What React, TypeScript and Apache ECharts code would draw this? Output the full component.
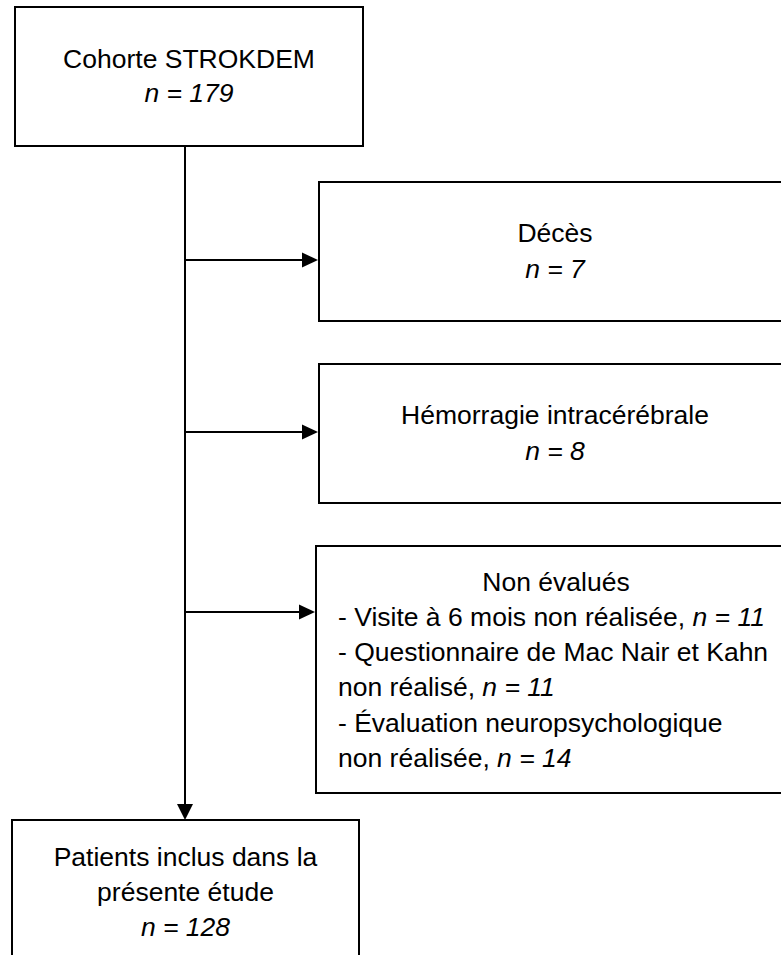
import React, { useEffect, useRef } from "react";
import * as echarts from "echarts";

// ---- data ----
const cohortTitle = "Cohorte STROKDEM";
const cohortCount = 179;
const exclusionTitles = ["Décès", "Hémorragie intracérébrale"];
const exclusionCounts = [7, 8];
const nonEvalTitle = "Non évalués";
const nonEvalLines = [
  "- Visite à 6 mois non réalisée, ",
  "- Questionnaire de Mac Nair et Kahn",
  "non réalisé, ",
  "- Évaluation neuropsychologique",
  "non réalisée, ",
];
const nonEvalLineCounts: (number | null)[] = [11, null, 11, null, 14];
const finalTitleLines = ["Patients inclus dans la", "présente étude"];
const finalCount = 128;

const FF = '"Liberation Sans", Arial, Helvetica, sans-serif';
const FS = 26.5;
const LINE = 2;

function richText(x: number, y: number, parts: { t: string; i?: boolean }[], align: string) {
  const text = parts.map((p) => `{${p.i ? "i" : "r"}|${p.t}}`).join("");
  return {
    type: "text",
    x,
    y,
    z: 10,
    style: {
      text,
      fill: "#000",
      fontSize: FS,
      fontFamily: FF,
      align,
      textAlign: align,
      verticalAlign: "middle",
      textVerticalAlign: "middle",
      rich: {
        r: { fontSize: FS, fontFamily: FF, fill: "#000", fontStyle: "normal" },
        i: { fontSize: FS, fontFamily: FF, fill: "#000", fontStyle: "italic" },
      },
    },
  };
}

function box(x: number, y: number, w: number, h: number) {
  return {
    type: "rect",
    z: 1,
    shape: { x, y, width: w, height: h },
    style: { fill: "#fff", stroke: "#000", lineWidth: LINE },
  };
}

function hArrow(y: number, tipX: number) {
  return [
    { type: "line", z: 2, shape: { x1: 185, y1: y, x2: tipX - 12, y2: y }, style: { stroke: "#000", lineWidth: LINE } },
    {
      type: "polygon",
      z: 3,
      shape: { points: [[tipX - 16, y - 7.5], [tipX, y], [tipX - 16, y + 7.5]] },
      style: { fill: "#000" },
    },
  ];
}

function buildOption() {
  const els: any[] = [];
  // boxes
  els.push(box(15, 7, 348, 139));
  els.push(box(319, 182, 480, 139));
  els.push(box(319, 364, 480, 139));
  els.push(box(316, 546, 480, 247));
  els.push(box(12, 820, 347, 200));

  // connectors
  els.push({ type: "line", z: 2, shape: { x1: 185, y1: 146, x2: 185, y2: 808 }, style: { stroke: "#000", lineWidth: LINE } });
  els.push({
    type: "polygon",
    z: 3,
    shape: { points: [[177, 804], [185, 820], [193, 804]] },
    style: { fill: "#000" },
  });
  els.push(...hArrow(260, 318));
  els.push(...hArrow(432, 318));
  els.push(...hArrow(612, 315));

  // top box text
  els.push(richText(189, 59, [{ t: cohortTitle }], "center"));
  els.push(richText(189, 93, [{ t: `n = ${cohortCount}`, i: true }], "center"));

  // exclusion boxes
  const exclY = [233, 415];
  exclusionTitles.forEach((t, k) => {
    els.push(richText(555, exclY[k], [{ t }], "center"));
    els.push(richText(555, exclY[k] + 36, [{ t: `n = ${exclusionCounts[k]}`, i: true }], "center"));
  });

  // non évalués
  els.push(richText(556, 582, [{ t: nonEvalTitle }], "center"));
  nonEvalLines.forEach((t, k) => {
    const parts: { t: string; i?: boolean }[] = [{ t }];
    const c = nonEvalLineCounts[k];
    if (c !== null) parts.push({ t: `n = ${c}`, i: true });
    els.push(richText(338, 617 + k * 35.2, parts, "left"));
  });

  // final box
  finalTitleLines.forEach((t, k) => {
    els.push(richText(185.5, 857 + k * 35, [{ t }], "center"));
  });
  els.push(richText(185.5, 927, [{ t: `n = ${finalCount}`, i: true }], "center"));

  return {
    animation: false,
    backgroundColor: "#fff",
    graphic: { elements: els },
  };
}

export default function App() {
  const ref = useRef<HTMLDivElement>(null);
  useEffect(() => {
    if (!ref.current) return;
    const chart = echarts.init(ref.current, undefined, { renderer: "svg" });
    chart.setOption(buildOption() as any);
    return () => chart.dispose();
  }, []);
  return (
    <div
      ref={ref}
      style={{ position: "fixed", left: 0, top: 0, width: 781, height: 955, background: "#fff" }}
    />
  );
}
